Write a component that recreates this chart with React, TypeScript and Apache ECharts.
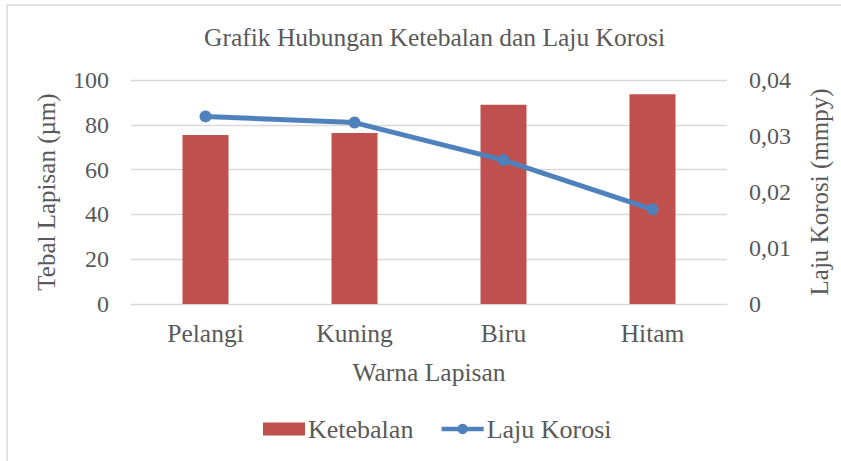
import React, { useEffect, useRef } from "react";
import * as echarts from "echarts";

const categories = ["Pelangi", "Kuning", "Biru", "Hitam"];
const ketebalan = [75.4, 76.3, 89.0, 93.6];
const lajuKorosi = [0.0335, 0.0324, 0.0257, 0.0169];
const leftTicks = [0, 20, 40, 60, 80, 100];
const rightTicks = [0, 0.01, 0.02, 0.03, 0.04];

const FONT = "Times New Roman, Liberation Serif, serif";
const GRAY = "#595959";

export default function App() {
  const ref = useRef<HTMLDivElement>(null);
  useEffect(() => {
    if (!ref.current) return;
    const chart = echarts.init(ref.current, undefined, { renderer: "svg" });
    chart.setOption({
      animation: false,
      backgroundColor: "#ffffff",
      textStyle: { fontFamily: FONT, color: GRAY },
      title: {
        text: "Grafik Hubungan Ketebalan dan Laju Korosi",
        left: 199,
        top: 19,
        textStyle: { fontFamily: FONT, color: GRAY, fontSize: 25.5, fontWeight: "normal" },
      },
      legend: {
        bottom: 14,
        left: 258,
        itemGap: 26,
        itemWidth: 42,
        itemHeight: 13,
        textStyle: { fontFamily: FONT, color: GRAY, fontSize: 26, padding: [0, 0, 0, -2] },
        lineStyle: { width: 4.5 },
        data: [
          { name: "Ketebalan", icon: "rect" },
          { name: "Laju Korosi" },
        ],
      },
      grid: { left: 131, right: 114, top: 80, bottom: 157, containLabel: false },
      xAxis: {
        type: "category",
        data: categories,
        name: "Warna Lapisan",
        nameLocation: "middle",
        nameGap: 55,
        nameTextStyle: { fontFamily: FONT, color: GRAY, fontSize: 25.5 },
        axisLine: { show: true, lineStyle: { color: "#d9d9d9" } },
        axisTick: { show: false },
        axisLabel: { fontFamily: FONT, color: GRAY, fontSize: 25.5, margin: 16 },
      },
      yAxis: [
        {
          type: "value",
          min: leftTicks[0],
          max: leftTicks[leftTicks.length - 1],
          interval: 20,
          name: "Tebal Lapisan (µm)",
          nameLocation: "middle",
          nameGap: 72,
          nameTextStyle: { fontFamily: FONT, color: GRAY, fontSize: 25 },
          axisLine: { show: false },
          axisTick: { show: false },
          axisLabel: { fontFamily: FONT, color: GRAY, fontSize: 24, margin: 22 },
          splitLine: { lineStyle: { color: "#d9d9d9", width: 1.3 } },
        },
        {
          type: "value",
          min: rightTicks[0],
          max: rightTicks[rightTicks.length - 1],
          interval: 0.01,
          name: "Laju Korosi (mmpy)",
          nameLocation: "middle",
          nameGap: 80,
          nameRotate: 90,
          nameTextStyle: { fontFamily: FONT, color: GRAY, fontSize: 25 },
          axisLine: { show: false },
          axisTick: { show: false },
          splitLine: { show: false },
          axisLabel: {
            fontFamily: FONT,
            color: GRAY,
            fontSize: 24,
            margin: 22,
            formatter: (v: number) => (v === 0 ? "0" : v.toFixed(2).replace(".", ",")),
          },
        },
      ],
      series: [
        {
          name: "Ketebalan",
          type: "bar",
          data: ketebalan,
          barWidth: 46,
          itemStyle: { color: "#c0504d" },
          yAxisIndex: 0,
        },
        {
          name: "Laju Korosi",
          type: "line",
          data: lajuKorosi,
          yAxisIndex: 1,
          symbol: "circle",
          symbolSize: 12,
          lineStyle: { color: "#4f81bd", width: 5 },
          itemStyle: { color: "#4f81bd" },
        },
      ],
      graphic: [
        { type: "line", shape: { x1: 7, y1: 5, x2: 841, y2: 5 }, style: { stroke: "#d9d9d9", lineWidth: 1.5 } },
        { type: "line", shape: { x1: 7, y1: 5, x2: 7, y2: 461 }, style: { stroke: "#d9d9d9", lineWidth: 1.5 } },
      ],
    });
    return () => chart.dispose();
  }, []);
  return (
    <div
      ref={ref}
      style={{ position: "fixed", left: 0, top: 0, width: 841, height: 461 }}
    />
  );
}
